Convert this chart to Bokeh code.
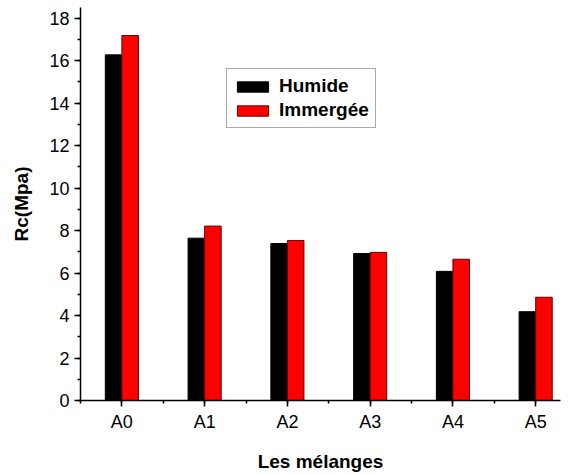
from bokeh.plotting import figure
from bokeh.models import FixedTicker, Legend, LegendItem, Range1d
from bokeh.embed import file_html
from bokeh.resources import INLINE
import numpy as np

# Compressive strength per mix, two curing conditions
categories = ["A0", "A1", "A2", "A3", "A4", "A5"]
humide = [16.27, 7.64, 7.39, 6.92, 6.08, 4.18]
immergee = [17.18, 8.21, 7.53, 6.97, 6.65, 4.86]
y_ticks = [0, 2, 4, 6, 8, 10, 12, 14, 16, 18]

pos = np.arange(len(categories))
bar_w = 0.2

p = figure(width=568, height=474, output_backend="svg", toolbar_location=None,
           x_range=Range1d(-0.5, 5.3), y_range=Range1d(0, 18.5),
           min_border_left=80, min_border_right=8, min_border_top=7,
           min_border_bottom=74)
p.outline_line_color = None
p.grid.grid_line_color = None
p.background_fill_color = "white"

r_h = p.vbar(x=pos - bar_w / 2, top=humide, width=bar_w, bottom=0,
             fill_color="black", line_color="black", line_width=1)
r_i = p.vbar(x=pos + bar_w / 2, top=immergee, width=bar_w, bottom=0,
             fill_color="#ff0000", line_color="#6a0000", line_width=1)

# x axis: categories at integer positions, minor ticks between them
p.xaxis.ticker = FixedTicker(ticks=list(pos),
                             minor_ticks=list(np.arange(-0.5, 5.6, 0.5)))
p.xaxis.major_label_overrides = {int(i): c for i, c in zip(pos, categories)}
p.yaxis.ticker = FixedTicker(ticks=y_ticks, minor_ticks=list(range(0, 19)))

for ax in (p.xaxis[0], p.yaxis[0]):
    ax.axis_line_color = "black"
    ax.axis_line_width = 1.5
    ax.major_tick_line_color = "black"
    ax.major_tick_line_width = 1.5
    ax.minor_tick_line_color = "black"
    ax.minor_tick_line_width = 1.5
    ax.major_tick_out = 6
    ax.major_tick_in = 0
    ax.minor_tick_out = 3
    ax.minor_tick_in = 0
    ax.major_label_text_font = "Liberation Sans"
    ax.major_label_text_font_size = "18px"
    ax.major_label_text_color = "black"
    ax.axis_label_text_font = "Liberation Sans"
    ax.axis_label_text_font_size = "19px"
    ax.axis_label_text_font_style = "bold"
    ax.axis_label_text_color = "black"

p.xaxis.axis_label = "Les mélanges"
p.yaxis.axis_label = "Rc(Mpa)"
p.xaxis.major_label_standoff = 5
p.xaxis.axis_label_standoff = 16
p.yaxis.major_label_standoff = 5
p.yaxis.axis_label_standoff = 14

legend = Legend(items=[LegendItem(label="Humide", renderers=[r_h]),
                       LegendItem(label="Immergée", renderers=[r_i])],
                location=(146, 272))
legend.border_line_color = "#555555"
legend.border_line_width = 1
legend.background_fill_color = "white"
legend.label_text_font = "Liberation Sans"
legend.label_text_font_size = "19px"
legend.label_text_font_style = "bold"
legend.label_text_color = "black"
legend.glyph_width = 39
legend.glyph_height = 13
legend.spacing = 2
legend.padding = 6
legend.margin = 0
legend.label_standoff = 7
legend.label_height = 20
p.add_layout(legend, "center")

open("out.html", "w").write(file_html(p, INLINE))
